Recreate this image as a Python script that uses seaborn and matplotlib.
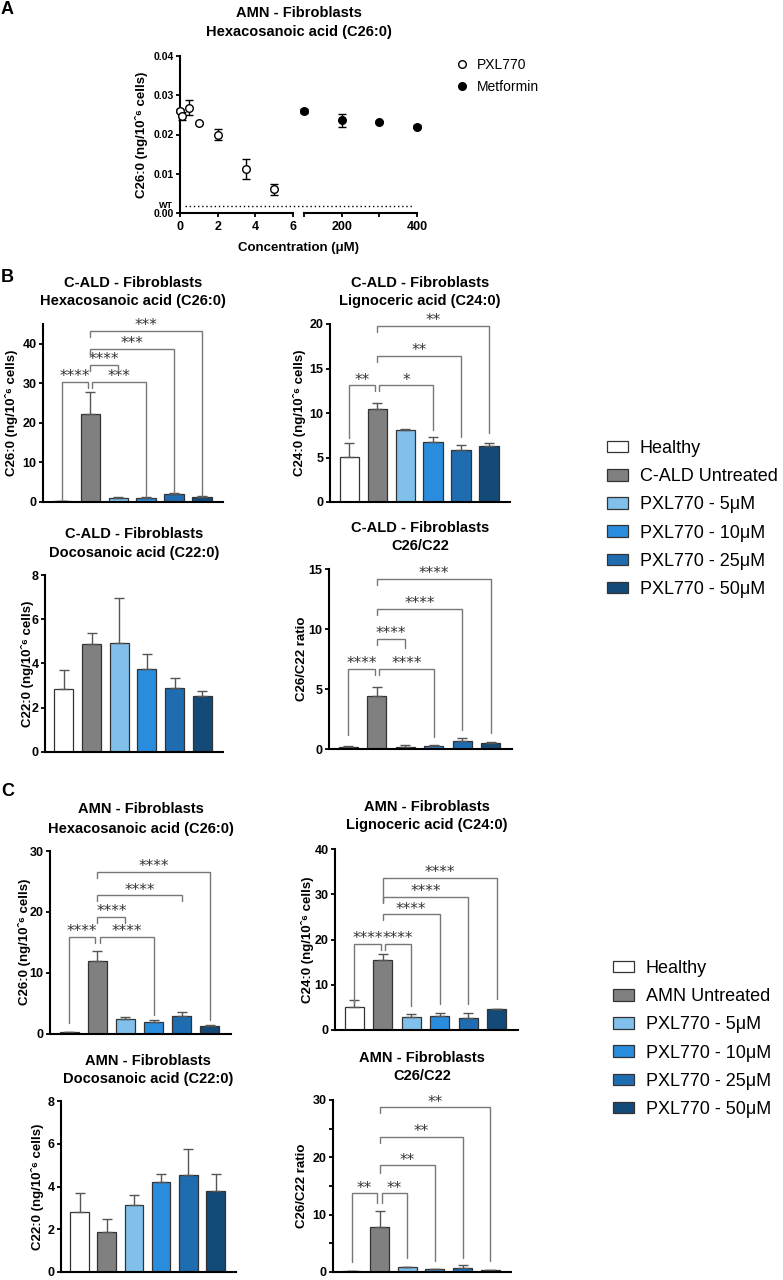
import numpy as np
import pandas as pd
import matplotlib
matplotlib.use('Agg')
import matplotlib.pyplot as plt
import matplotlib.transforms as mtransforms
from matplotlib.patches import Patch
from matplotlib.lines import Line2D
import seaborn as sns

sns.set_theme(style='ticks')
plt.rcParams['font.family'] = ['Liberation Sans', 'DejaVu Sans']
plt.rcParams['text.color'] = 'black'
plt.rcParams['axes.labelcolor'] = 'black'
plt.rcParams['axes.edgecolor'] = 'black'
plt.rcParams['xtick.color'] = 'black'
plt.rcParams['ytick.color'] = 'black'
plt.rcParams['axes.linewidth'] = 1.5
plt.rcParams['xtick.major.width'] = 1.3
plt.rcParams['ytick.major.width'] = 1.3
plt.rcParams['ytick.minor.width'] = 1.3
plt.rcParams['xtick.major.size'] = 3.2
plt.rcParams['ytick.major.size'] = 3.2
plt.rcParams['ytick.minor.size'] = 3.2

# ---------------- data ----------------
# Panel A
pxl_conc = [0, 0.125, 0.5, 1, 2, 3.5, 5]
pxl_c26 = [0.0261, 0.0247, 0.0268, 0.0230, 0.0200, 0.0112, 0.0060]
pxl_err = [0.0004, 0.0011, 0.0019, 0.0003, 0.0013, 0.0026, 0.0015]
met_conc = [100, 200, 300, 400]
met_c26 = [0.0260, 0.0236, 0.0232, 0.0220]
met_err = [0.0005, 0.0016, 0.0003, 0.0003]
wt_level = 0.0017

groups_b = ['Healthy', 'C-ALD Untreated', 'PXL770 - 5μM', 'PXL770 - 10μM',
            'PXL770 - 25μM', 'PXL770 - 50μM']
groups_c = ['Healthy', 'AMN Untreated', 'PXL770 - 5μM', 'PXL770 - 10μM',
            'PXL770 - 25μM', 'PXL770 - 50μM']
bar_colors = ['#ffffff', '#808080', '#80c0ea', '#2a8cdc', '#1f6db0', '#144a78']

# Panel B (C-ALD)
b_c26 = [0.3, 22.3, 0.9, 1.0, 1.9, 1.2]
b_c26_err = [0.05, 5.5, 0.3, 0.2, 0.3, 0.3]
b_c24 = [5.1, 10.4, 8.05, 6.75, 5.85, 6.3]
b_c24_err = [1.55, 0.7, 0.1, 0.55, 0.55, 0.3]
b_c22 = [2.82, 4.86, 4.9, 3.74, 2.9, 2.5]
b_c22_err = [0.88, 0.5, 2.07, 0.68, 0.44, 0.25]
b_ratio = [0.15, 4.45, 0.2, 0.25, 0.7, 0.5]
b_ratio_err = [0.1, 0.72, 0.1, 0.07, 0.25, 0.1]

# Panel C (AMN)
c_c26 = [0.25, 11.9, 2.4, 1.9, 2.8, 1.25]
c_c26_err = [0.05, 1.7, 0.35, 0.4, 0.8, 0.2]
c_c24 = [5.0, 15.6, 2.8, 3.2, 2.7, 4.6]
c_c24_err = [1.6, 1.2, 0.7, 0.5, 1.1, 0.1]
c_c22 = [2.82, 1.85, 3.13, 4.23, 4.52, 3.77]
c_c22_err = [0.88, 0.64, 0.46, 0.37, 1.22, 0.83]
c_ratio = [0.15, 7.84, 0.8, 0.45, 0.74, 0.34]
c_ratio_err = [0.05, 2.86, 0.1, 0.05, 0.46, 0.06]

# significance brackets: (group i, group j, line level, leg end i, leg end j, label)
sig_b_c26 = [(0, 1, 30.3, 0.6, None, '****'), (1, 3, 30.3, None, 1.4, '***'),
             (1, 2, 34.6, None, None, '****'), (1, 4, 38.7, None, 2.3, '***'),
             (1, 5, 43.2, None, 1.4, '***')]
sig_b_c24 = [(0, 1, 13.1, 7.2, None, '**'), (1, 3, 13.1, None, 8.1, '*'),
             (1, 4, 16.4, None, 7.3, '**'), (1, 5, 19.8, None, 7.7, '**')]
sig_b_ratio = [(0, 1, 6.64, 1.2, None, '****'), (1, 3, 6.64, None, 1.0, '****'),
               (1, 2, 9.15, None, 8.4, '****'), (1, 4, 11.65, None, 1.6, '****'),
               (1, 5, 14.15, None, 1.3, '****')]
sig_c_c26 = [(0, 1, 15.9, 1.7, None, '****'), (1, 3, 15.9, None, 3.1, '****'),
             (1, 2, 19.1, None, None, '****'), (1, 4, 22.7, None, None, '****'),
             (1, 5, 26.6, None, 2.2, '****')]
sig_c_c24 = [(0, 1, 19.0, 5.9, None, '****'), (1, 2, 19.0, None, 5.4, '****'),
             (1, 3, 25.6, None, 5.8, '****'), (1, 4, 29.4, None, 5.8, '****'),
             (1, 5, 33.7, 28.4, 6.8, '****')]
sig_c_ratio = [(0, 1, 13.7, 1.7, 12.1, '**'), (1, 2, 13.7, 12.1, 2.4, '**'),
               (1, 3, 18.6, 17.2, 2.0, '**'), (1, 4, 23.6, None, 2.4, '**'),
               (1, 5, 28.7, None, 2.0, '**')]

YL26 = 'C26:0 (ng/10ˆ⁶ cells)'
YL24 = 'C24:0 (ng/10ˆ⁶ cells)'
YL22 = 'C22:0 (ng/10ˆ⁶ cells)'
YLR = 'C26/C22 ratio'

# ---------------- figure ----------------
W, H = 783, 1280
fig = plt.figure(figsize=(W / 100, H / 100), dpi=100)


def add_ax(left, right, y0, ytop):
    return fig.add_axes([left / W, 1 - y0 / H, (right - left) / W, (y0 - ytop) / H])


def ftext(x, y, s, **kw):
    return fig.text(x / W, 1 - y / H, s, **kw)


def title2(x, y1, y2, l1, l2):
    ftext(x, y1, l1, ha='center', va='center', fontsize=10.5, fontweight='bold')
    ftext(x, y2, l2, ha='center', va='center', fontsize=10.5, fontweight='bold')


def bar_panel(box, groups, means, errs, ymax, yticks, ylabel, ylab_x, sig=None,
              minor=None):
    left, right, y0, ytop = box
    ax = add_ax(left, right, y0, ytop)
    df = pd.DataFrame({'group': groups, 'value': means})
    sns.barplot(data=df, x='group', y='value', hue='group', order=groups,
                hue_order=groups, palette=bar_colors, width=0.68, saturation=1,
                edgecolor='#333333', linewidth=0.9, errorbar=None, legend=False,
                ax=ax)
    xs = np.arange(len(groups))
    ax.errorbar(xs, means, yerr=[np.zeros(len(means)), errs], fmt='none',
                ecolor='#555555', elinewidth=1.0, capsize=3.6, capthick=1.0,
                zorder=1)
    ax.set_xlim(-0.68, 5.75)
    ax.set_ylim(0, ymax)
    ax.set_yticks(yticks)
    if minor is not None:
        ax.set_yticks(minor, minor=True)
    ax.set_xticks([])
    ax.set_xlabel('')
    ax.set_ylabel('')
    for lab in ax.get_yticklabels():
        lab.set_fontweight('bold')
    ax.tick_params(axis='y', labelsize=9, pad=1.5, colors='black')
    sns.despine(ax=ax)
    ftext(ylab_x, (y0 + ytop) / 2, ylabel, rotation=90, ha='center', va='center',
          fontsize=9.5, fontweight='bold')
    if sig:
        u_per_px = ymax / (y0 - ytop)
        leg = 6 * u_per_px
        hu_levels = [s[2] for s in sig if (s[0], s[1]) == (0, 1)]
        for (i, j, yl, bi, bj, lab) in sig:
            xi, xj = float(i), float(j)
            if (i, j) == (0, 1):
                xj -= 0.08
            elif i == 1 and yl in hu_levels:
                xi += 0.08
            bi = yl - leg if bi is None else bi
            bj = yl - leg if bj is None else bj
            ax.plot([xi, xi, xj, xj], [bi, yl, yl, bj], color='#777777', lw=1.0,
                    solid_joinstyle='miter', clip_on=False, zorder=3)
            ax.annotate(lab, ((xi + xj) / 2, yl), xytext=(0, 0.6),
                        textcoords='offset points', ha='center', va='baseline',
                        fontsize=11, color='#333333', family='DejaVu Sans',
                        annotation_clip=False)
    return ax


# ---------------- Panel A ----------------
ftext(1, 9, 'A', fontsize=13, fontweight='bold', va='center', ha='left')
title2(298.5, 13, 32, 'AMN - Fibroblasts', 'Hexacosanoic acid (C26:0)')
axA1 = add_ax(180, 293, 213, 56)
axA2 = add_ax(304, 417, 213, 56)
for ax in (axA1, axA2):
    ax.set_ylim(0, 0.04)
axA1.set_xlim(0, 6)
axA2.set_xlim(100, 400)

dfp = pd.DataFrame({'conc': pxl_conc, 'c26': pxl_c26})
dfm = pd.DataFrame({'conc': met_conc, 'c26': met_c26})
axA1.errorbar(pxl_conc, pxl_c26, yerr=pxl_err, fmt='none', ecolor='black',
              elinewidth=1, capsize=3, capthick=1, clip_on=False, zorder=2)
sns.scatterplot(data=dfp, x='conc', y='c26', ax=axA1, marker='o', s=30,
                facecolor='white', edgecolor='black', linewidth=1, zorder=3,
                clip_on=False)
axA2.errorbar(met_conc, met_c26, yerr=met_err, fmt='none', ecolor='black',
              elinewidth=1, capsize=3, capthick=1, clip_on=False, zorder=2)
sns.scatterplot(data=dfm, x='conc', y='c26', ax=axA2, marker='o', s=30,
                color='black', edgecolor='black', linewidth=1, zorder=3,
                clip_on=False)

axA1.set_xticks([0, 2, 4, 6])
axA1.set_yticks([0, 0.01, 0.02, 0.03, 0.04])
axA1.set_yticklabels(['0.00', '0.01', '0.02', '0.03', '0.04'])
axA1.tick_params(axis='y', labelsize=7.5, pad=1.5)
axA1.tick_params(axis='x', labelsize=9, pad=2.5)
axA2.set_xticks([100, 200, 300, 400])
axA2.set_xticklabels(['', '200', '', '400'])
axA2.tick_params(axis='x', labelsize=9, pad=2.5)
axA2.set_yticks([])
for ax in (axA1, axA2):
    ax.set_xlabel('')
    ax.set_ylabel('')
    for lab in ax.get_xticklabels() + ax.get_yticklabels():
        lab.set_fontweight('bold')
sns.despine(ax=axA1)
sns.despine(ax=axA2, left=True)

trans = mtransforms.blended_transform_factory(fig.transFigure, axA1.transData)
fig.add_artist(Line2D([185 / W, 413 / W], [wt_level, wt_level], transform=trans,
                      color='black', lw=1, ls=(0, (1, 2))))
ftext(166, 206, 'WT', fontsize=6.5, fontweight='bold', ha='center', va='center')
ftext(298.5, 248, 'Concentration (μM)', fontsize=9.5, fontweight='bold',
      ha='center', va='center')
ftext(141, 134.5, YL26, rotation=90, fontsize=9.5, fontweight='bold',
      ha='center', va='center')

legA = [Line2D([], [], marker='o', ls='none', markersize=5.5,
               markerfacecolor='white', markeredgecolor='black', label='PXL770'),
        Line2D([], [], marker='o', ls='none', markersize=5.5,
               markerfacecolor='black', markeredgecolor='black', label='Metformin')]
fig.legend(handles=legA, loc='upper left', bbox_to_anchor=(455 / W, 1 - 58 / H),
           frameon=False, fontsize=10, handlelength=1.0, handletextpad=0.6,
           labelspacing=0.55, borderpad=0, borderaxespad=0)

# ---------------- Panel B ----------------
ftext(1, 278, 'B', fontsize=13, fontweight='bold', va='center', ha='left')
title2(133, 283, 301, 'C-ALD - Fibroblasts', 'Hexacosanoic acid (C26:0)')
bar_panel((43, 223, 502, 324), groups_b, b_c26, b_c26_err, 45, [0, 10, 20, 30, 40],
          YL26, 12, sig_b_c26)
title2(420, 283, 301, 'C-ALD - Fibroblasts', 'Lignoceric acid (C24:0)')
bar_panel((330, 510, 502, 324), groups_b, b_c24, b_c24_err, 20, [0, 5, 10, 15, 20],
          YL24, 300, sig_b_c24)
title2(134, 534, 553, 'C-ALD - Fibroblasts', 'Docosanoic acid (C22:0)')
bar_panel((45, 223, 751.7, 575), groups_b, b_c22, b_c22_err, 8, [0, 2, 4, 6, 8],
          YL22, 27)
title2(420, 528, 546, 'C-ALD - Fibroblasts', 'C26/C22')
bar_panel((329, 512, 749, 569), groups_b, b_ratio, b_ratio_err, 15, [0, 5, 10, 15],
          YLR, 302, sig_b_ratio)

def group_legend(groups, x, ytop):
    handles = [Patch(facecolor=c, edgecolor='#333333', linewidth=0.9, label=g)
               for g, c in zip(groups, bar_colors)]
    fig.legend(handles=handles, loc='upper left',
               bbox_to_anchor=(x / W, 1 - ytop / H), frameon=False, fontsize=13,
               handlelength=1.17, handleheight=0.6, handletextpad=0.65,
               labelspacing=0.62, borderpad=0, borderaxespad=0)

group_legend(groups_b, 607, 440)

# ---------------- Panel C ----------------
ftext(1, 791, 'C', fontsize=13, fontweight='bold', va='center', ha='left')
title2(141, 809, 829, 'AMN - Fibroblasts', 'Hexacosanoic acid (C26:0)')
bar_panel((50, 231, 1033.5, 851), groups_c, c_c26, c_c26_err, 30, [0, 10, 20, 30],
          YL26, 25, sig_c_c26)
title2(427, 807, 825, 'AMN - Fibroblasts', 'Lignoceric acid (C24:0)')
bar_panel((335, 518, 1030, 849.3), groups_c, c_c24, c_c24_err, 40,
          [0, 10, 20, 30, 40], YL24, 307, sig_c_c24)
title2(148, 1061, 1079, 'AMN - Fibroblasts', 'Docosanoic acid (C22:0)')
bar_panel((61, 236, 1272, 1101), groups_c, c_c22, c_c22_err, 8, [0, 2, 4, 6, 8],
          YL22, 37)
title2(422, 1058, 1076, 'AMN - Fibroblasts', 'C26/C22')
bar_panel((333, 511, 1272, 1100), groups_c, c_ratio, c_ratio_err, 30,
          [0, 10, 20, 30], YLR, 302, sig_c_ratio, minor=[5, 15, 25])

group_legend(groups_c, 613, 960)

fig.savefig('out.png', dpi=100)
